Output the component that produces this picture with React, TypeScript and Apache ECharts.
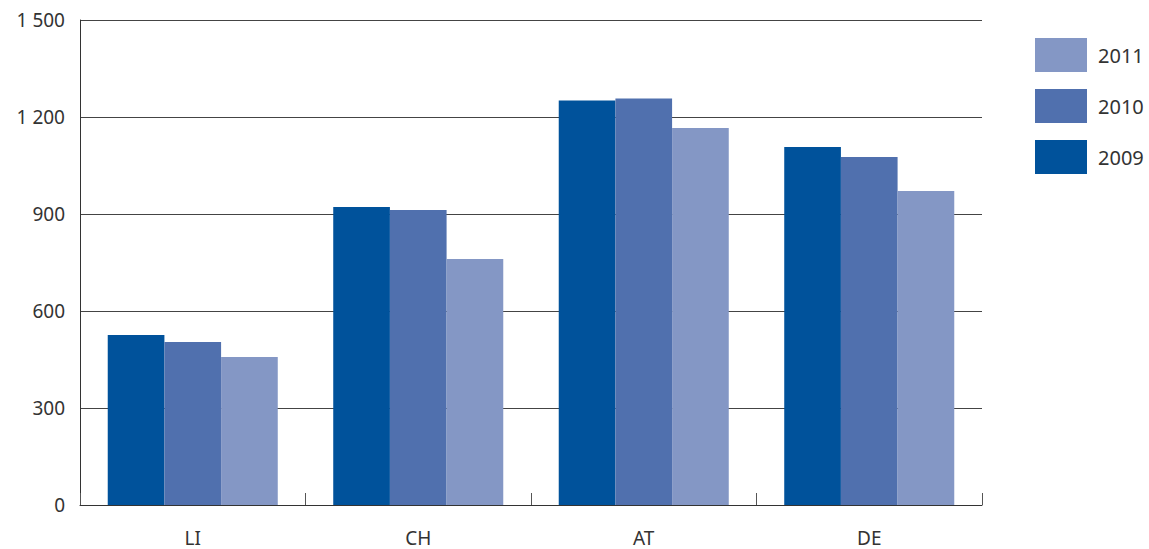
import React, { useEffect, useRef } from "react";
import * as echarts from "echarts";

const categories = ["LI", "CH", "AT", "DE"];
const years = ["2009", "2010", "2011"];
const values2009 = [526, 922, 1251, 1107];
const values2010 = [504, 912, 1257, 1076];
const values2011 = [458, 761, 1166, 971];
const colors = ["#00529B", "#5070AE", "#8497C5"];
const legendOrder = ["2011", "2010", "2009"];

const FONT = "'Noto Sans', 'DejaVu Sans', sans-serif";

export default function App() {
  const ref = useRef<HTMLDivElement>(null);
  useEffect(() => {
    const chart = echarts.init(ref.current!, null, { renderer: "svg" });
    const seriesValues = [values2009, values2010, values2011];
    chart.setOption({
      animation: false,
      textStyle: { fontFamily: FONT },
      grid: { left: 80, right: 167, top: 20, bottom: 44, containLabel: false },
      legend: {
        orient: "vertical",
        left: 1035,
        top: 38,
        padding: 0,
        itemWidth: 52,
        itemHeight: 34,
        itemGap: 17,
        icon: "rect",
        data: legendOrder,
        textStyle: { fontSize: 20, color: "#333", fontFamily: FONT, padding: [0, 0, 0, 6] },
      },
      xAxis: {
        type: "category",
        data: categories,
        axisLine: { show: true, lineStyle: { color: "#333", width: 1 } },
        axisTick: { show: true, inside: true, length: 12, alignWithLabel: false, lineStyle: { color: "#555" } },
        axisLabel: { fontSize: 19, lineHeight: 19, color: "#333", margin: 23, fontFamily: FONT },
        splitLine: { show: false },
      },
      yAxis: {
        type: "value",
        min: 0,
        max: 1500,
        interval: 300,
        axisLine: { show: true, lineStyle: { color: "#333", width: 1 } },
        axisTick: { show: false },
        axisLabel: {
          fontSize: 19,
          color: "#333",
          margin: 15,
          fontFamily: FONT,
          formatter: (v: number) => {
            const s = String(v);
            return s.length > 3 ? s.slice(0, s.length - 3) + " " + s.slice(-3) : s;
          },
        },
        splitLine: { show: true, lineStyle: { color: "#444", width: 1 } },
      },
      series: years.map((y, i) => ({
        name: y,
        type: "bar",
        data: seriesValues[i],
        itemStyle: { color: colors[i] },
        barGap: "0%",
        barCategoryGap: "24.6%",
      })),
    });
    return () => chart.dispose();
  }, []);
  return <div ref={ref} style={{ width: 1149, height: 549, position: "absolute", left: 0, top: 0 }} />;
}
